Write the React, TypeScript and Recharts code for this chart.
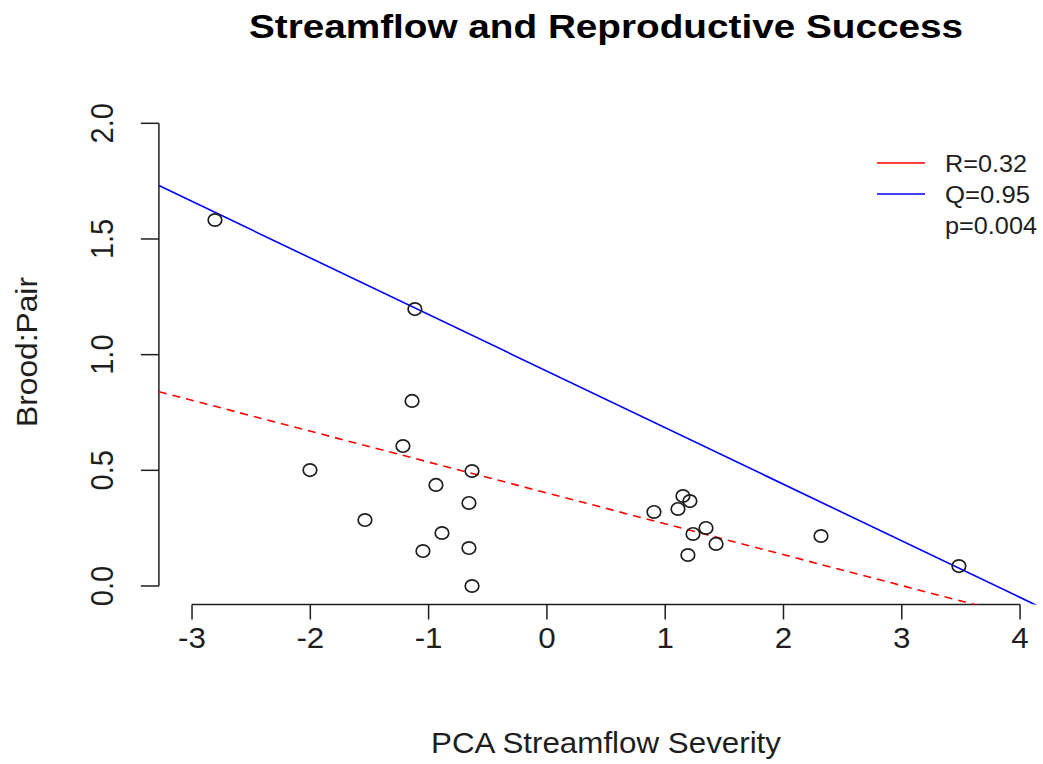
import React from "react";
import { ComposedChart, XAxis, YAxis, Scatter, Line, ReferenceLine, Legend } from "recharts";

// ---- data ----
const xValues = [-2.806, -1.116, -1.14, -1.217, -2.003, -0.633, -0.938, -0.659, -1.538, -0.887, -1.048, -0.659, -0.633, 0.905, 1.108, 1.15, 1.209, 1.235, 1.345, 1.43, 1.192, 2.317, 3.483];
const yValues = [1.582, 1.197, 0.8, 0.605, 0.501, 0.497, 0.437, 0.359, 0.285, 0.229, 0.151, 0.164, 0.0, 0.32, 0.333, 0.389, 0.367, 0.225, 0.251, 0.182, 0.134, 0.216, 0.086];

const fitX = [-3.28, 4.28];
const redFitY = [0.84, -0.169];
const blueFitY = [1.731, -0.118];

const xTicks = [-3, -2, -1, 0, 1, 2, 3, 4];
const yTicks = [0, 0.5, 1, 1.5, 2];
const yTickLabels = ["0.0", "0.5", "1.0", "1.5", "2.0"];

const legendLabels = ["R=0.32", "Q=0.95", "p=0.004"];
const legendColors = ["#ff0000", "#0000ff", ""];
const legendWidths = [82, 85, 92];

const TITLE = "Streamflow and Reproductive Success";
const XLAB = "PCA Streamflow Severity";
const YLAB = "Brood:Pair";

// ---- derived tables ----
const points = xValues.map((x, i) => ({ x, y: yValues[i] }));
const redData = fitX.map((x, i) => ({ x, y: redFitY[i] }));
const blueData = fitX.map((x, i) => ({ x, y: blueFitY[i] }));

// ---- layout ----
const FONT = "'Liberation Sans', Arial, Helvetica, sans-serif";
const PLOT_LEFT = 158.9;
const PLOT_TOP = 104.8;
const PLOT_BOTTOM = 604.5;
const CHART_W = 1060;
const CHART_H = 764;
const X_AXIS_H = 60;
const Y_AXIS_W = 60;
const INK = "#1e1e1e";

const XTick = (props: any) => {
  const { x, payload } = props;
  return (
    <g transform={`translate(${x},${PLOT_BOTTOM + 43}) scale(1.08,1)`}>
      <text x={0} y={0} textAnchor="middle" fontSize={29} fill={INK} fontFamily={FONT}>
        {String(payload.value)}
      </text>
    </g>
  );
};

const YTick = (props: any) => {
  const { y, payload } = props;
  const idx = yTicks.indexOf(payload.value);
  return (
    <g transform={`translate(${PLOT_LEFT - 45.5},${y}) scale(1.1,1) rotate(-90)`}>
      <text x={0} y={0} textAnchor="middle" fontSize={29} fill={INK} fontFamily={FONT}>
        {idx >= 0 ? yTickLabels[idx] : String(payload.value)}
      </text>
    </g>
  );
};

const LegendBox = () => (
  <svg width={180} height={100} style={{ display: "block", overflow: "visible" }}>
    {legendLabels.map((label, i) => {
      const cy = 17 + i * 31;
      return (
        <g key={label}>
          {legendColors[i] ? (
            <line x1={7} x2={55} y1={cy - 1} y2={cy - 1} stroke={legendColors[i]} strokeWidth={1.6} />
          ) : null}
          <text
            x={75}
            y={cy + 8}
            fontSize={23}
            fill={INK}
            fontFamily={FONT}
            textLength={legendWidths[i]}
            lengthAdjust="spacingAndGlyphs"
          >
            {label}
          </text>
        </g>
      );
    })}
  </svg>
);

const Dot = (props: any) => {
  const { cx, cy } = props;
  if (cx == null || cy == null) return null;
  return <ellipse cx={cx} cy={cy} rx={6.8} ry={6.2} fill="none" stroke={INK} strokeWidth={1.7} />;
};

export default function App() {
  return (
    <div
      style={{
        position: "absolute",
        left: 0,
        top: 0,
        width: 1043,
        height: 764,
        overflow: "hidden",
        background: "#ffffff",
      }}
    >
      <ComposedChart
        width={CHART_W}
        height={CHART_H}
        margin={{
          top: PLOT_TOP,
          right: CHART_W - 1053.2,
          bottom: CHART_H - PLOT_BOTTOM - X_AXIS_H,
          left: PLOT_LEFT - Y_AXIS_W,
        }}
      >
        <XAxis
          type="number"
          dataKey="x"
          domain={[-3.28, 4.28]}
          ticks={xTicks}
          interval={0}
          allowDataOverflow
          axisLine={false}
          tickLine={{ stroke: INK, strokeWidth: 1.5 }}
          tickSize={15}
          tick={XTick}
          height={X_AXIS_H}
        />
        <YAxis
          type="number"
          dataKey="y"
          domain={[-0.08, 2.08]}
          ticks={yTicks}
          interval={0}
          allowDataOverflow
          axisLine={false}
          tickLine={{ stroke: INK, strokeWidth: 1.5 }}
          tickSize={18}
          tick={YTick}
          width={Y_AXIS_W}
        />
        <ReferenceLine
          segment={[
            { x: xTicks[0], y: -0.08 },
            { x: xTicks[xTicks.length - 1], y: -0.08 },
          ]}
          stroke={INK}
          strokeWidth={1.5}
          ifOverflow="visible"
        />
        <ReferenceLine
          segment={[
            { x: -3.28, y: yTicks[0] },
            { x: -3.28, y: yTicks[yTicks.length - 1] },
          ]}
          stroke={INK}
          strokeWidth={1.5}
          ifOverflow="visible"
        />
        <Line
          data={redData}
          dataKey="y"
          name={legendLabels[0]}
          stroke="#ff0000"
          strokeWidth={1.6}
          strokeDasharray="8 6"
          dot={false}
          activeDot={false}
          isAnimationActive={false}
        />
        <Line
          data={blueData}
          dataKey="y"
          name={legendLabels[1]}
          stroke="#0000ff"
          strokeWidth={1.6}
          dot={false}
          activeDot={false}
          isAnimationActive={false}
        />
        <Scatter data={points} dataKey="y" shape={Dot} legendType="none" isAnimationActive={false} />
        <Legend
          layout="horizontal"
          verticalAlign="middle"
          align="center"
          content={() => <LegendBox />}
          wrapperStyle={{ position: "absolute", left: 870, top: 147, width: 180, height: 100 }}
        />
      </ComposedChart>
      <svg
        width={1043}
        height={764}
        style={{ position: "absolute", left: 0, top: 0, pointerEvents: "none" }}
      >
        <text
          x={606}
          y={38}
          textAnchor="middle"
          fontSize={34}
          fontWeight="bold"
          fill="#000"
          fontFamily={FONT}
          textLength={714}
          lengthAdjust="spacingAndGlyphs"
        >
          {TITLE}
        </text>
        <text
          x={606}
          y={753}
          textAnchor="middle"
          fontSize={29}
          fill={INK}
          fontFamily={FONT}
          textLength={350}
          lengthAdjust="spacingAndGlyphs"
        >
          {XLAB}
        </text>
        <g transform="translate(37,352) rotate(-90)">
          <text
            x={0}
            y={0}
            textAnchor="middle"
            fontSize={30}
            fill={INK}
            fontFamily={FONT}
            textLength={150}
            lengthAdjust="spacingAndGlyphs"
          >
            {YLAB}
          </text>
        </g>
      </svg>
    </div>
  );
}
